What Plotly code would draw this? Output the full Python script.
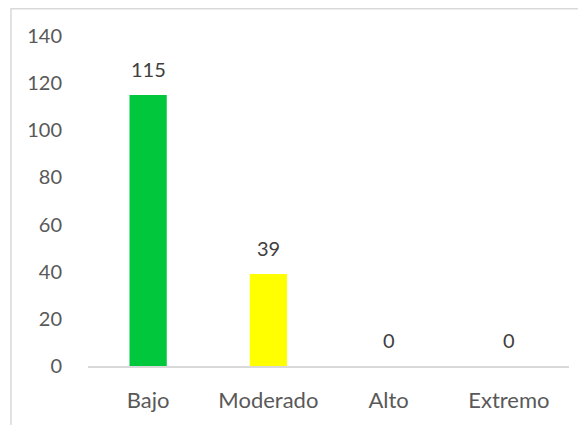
import plotly.graph_objects as go

categories = ["Bajo", "Moderado", "Alto", "Extremo"]
values = [115, 39, 0, 0]
colors = ["#00C73C", "#FFFF00", "#A5A5A5", "#FFC000"]
y_ticks = [0, 20, 40, 60, 80, 100, 120, 140]

# page has an 8px body margin, so figure is offset by 8px
W, H = 578, 417
L, R, T, B = 80, 17, 28, 59
pw, ph = W - L - R, H - T - B

font_family = "Lato, 'Open Sans', sans-serif"
text_color = "#595959"

fig = go.Figure()
fig.add_trace(go.Bar(
    x=categories, y=values, marker_color=colors, marker_line_width=0,
    width=0.31, hoverinfo="skip",
))

for c, v in zip(categories, values):
    fig.add_annotation(x=c, y=v, text=str(v), showarrow=False,
                       yanchor="bottom", yshift=12,
                       font=dict(family=font_family, size=20, color="#404040"))

# chart border (top and left visible)
x0 = (3 - L) / pw
y1 = (H - B - 0.75) / ph
fig.add_shape(type="rect", xref="paper", yref="paper",
              x0=x0, x1=1.3, y0=-0.5, y1=y1,
              line=dict(color="#D9D9D9", width=1.5), layer="below")

fig.update_layout(
    width=W, height=H,
    margin=dict(l=L, r=R, t=T, b=B),
    paper_bgcolor="white", plot_bgcolor="white",
    showlegend=False,
    font=dict(family=font_family, size=20, color=text_color),
    bargap=0.69,
)
fig.update_xaxes(showline=True, linecolor="#D9D9D9", linewidth=1.5,
                 showgrid=False, ticks="", ticklabelstandoff=14,
                 tickfont=dict(size=22, color=text_color))
fig.update_yaxes(range=[0, 140], tickvals=y_ticks, showgrid=False,
                 zeroline=False, showline=False, ticks="",
                 ticklabelstandoff=25,
                 tickfont=dict(size=20, color=text_color))

fig.write_html("out.html")
